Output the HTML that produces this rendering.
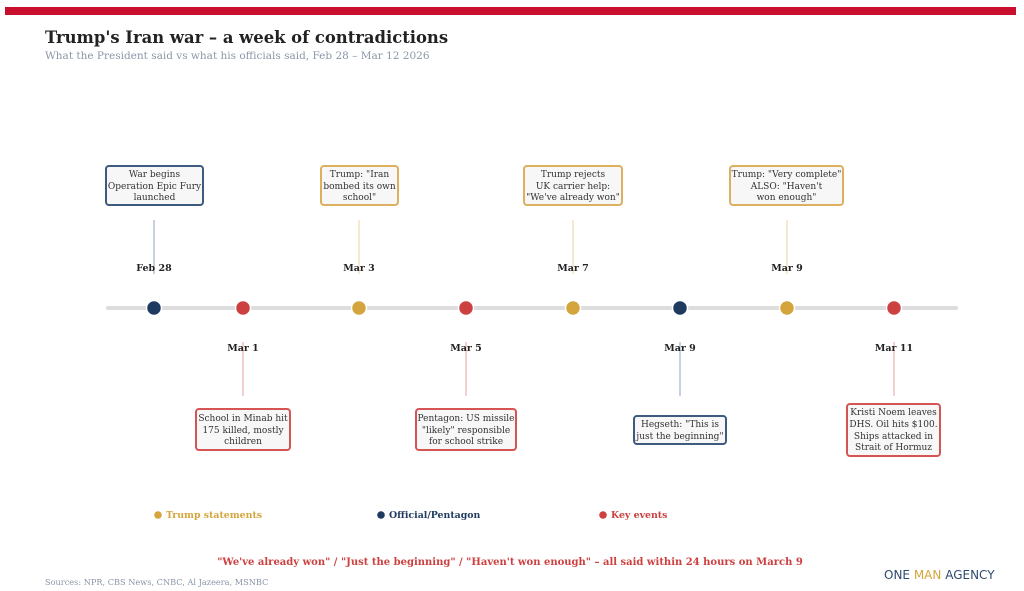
<!DOCTYPE html>
<html><head><meta charset="utf-8"><style>
html,body{margin:0;padding:0;background:#fff;}
svg{display:block;font-family:"DejaVu Serif","Liberation Serif",serif;}
</style></head><body>
<svg width="1024" height="591" viewBox="0 0 1024 591" xmlns="http://www.w3.org/2000/svg">
<rect x="5" y="7" width="1011" height="8" fill="#c8102e"/>
<text x="45" y="43" font-size="16.4" font-weight="bold" fill="#222">Trump's Iran war – a week of contradictions</text>
<text x="45" y="59" font-size="10.5" fill="#8a96a8">What the President said vs what his officials said, Feb 28 – Mar 12 2026</text>

<line x1="108" y1="308" x2="956" y2="308" stroke="#dddddd" stroke-width="4" stroke-linecap="round"/>

<g stroke-width="1">
<line x1="154" y1="220" x2="154" y2="274" stroke="#8fa3bf"/>
<line x1="359" y1="220" x2="359" y2="274" stroke="#ecd3a0"/>
<line x1="573" y1="220" x2="573" y2="274" stroke="#ecd3a0"/>
<line x1="787" y1="220" x2="787" y2="274" stroke="#ecd3a0"/>
<line x1="243" y1="342" x2="243" y2="396" stroke="#e6a0a0"/>
<line x1="466" y1="342" x2="466" y2="396" stroke="#e6a0a0"/>
<line x1="680" y1="342" x2="680" y2="396" stroke="#8fa3bf"/>
<line x1="894" y1="342" x2="894" y2="396" stroke="#e6a0a0"/>
</g>

<g font-size="9.5" font-weight="bold" fill="#222" text-anchor="middle">
<text x="154" y="271">Feb 28</text>
<text x="359" y="271">Mar 3</text>
<text x="573" y="271">Mar 7</text>
<text x="787" y="271">Mar 9</text>
<text x="243" y="351">Mar 1</text>
<text x="466" y="351">Mar 5</text>
<text x="680" y="351">Mar 9</text>
<text x="894" y="351">Mar 11</text>
</g>

<g stroke="#fff" stroke-width="1.5">
<circle cx="154" cy="308" r="7.5" fill="#1f3a5f"/>
<circle cx="243" cy="308" r="7.5" fill="#cc4040"/>
<circle cx="359" cy="308" r="7.5" fill="#d4a53c"/>
<circle cx="466" cy="308" r="7.5" fill="#cc4040"/>
<circle cx="573" cy="308" r="7.5" fill="#d4a53c"/>
<circle cx="680" cy="308" r="7.5" fill="#1f3a5f"/>
<circle cx="787" cy="308" r="7.5" fill="#d4a53c"/>
<circle cx="894" cy="308" r="7.5" fill="#cc4040"/>
</g>

<g fill="#f7f7f7" stroke-width="2">
<rect x="106" y="166" width="97" height="39" rx="3" stroke="#3d5a7f"/>
<rect x="321" y="166" width="77" height="39" rx="3" stroke="#dcb060"/>
<rect x="524" y="166" width="98" height="39" rx="3" stroke="#dcb060"/>
<rect x="730" y="166" width="113" height="39" rx="3" stroke="#dcb060"/>
<rect x="196" y="409" width="94" height="41" rx="3" stroke="#d65454"/>
<rect x="416" y="409" width="100" height="41" rx="3" stroke="#d65454"/>
<rect x="634" y="416" width="92" height="28" rx="3" stroke="#3d5a7f"/>
<rect x="847" y="404" width="93" height="52" rx="3" stroke="#d65454"/>
</g>

<g font-size="9" fill="#333" text-anchor="middle">
<text x="154.5" y="177">War begins</text>
<text x="154.5" y="189">Operation Epic Fury</text>
<text x="154.5" y="200">launched</text>
<text x="359.5" y="177">Trump: "Iran</text>
<text x="359.5" y="189">bombed its own</text>
<text x="359.5" y="200">school"</text>
<text x="573" y="177">Trump rejects</text>
<text x="573" y="189">UK carrier help:</text>
<text x="573" y="200">"We've already won"</text>
<text x="786.5" y="177">Trump: "Very complete"</text>
<text x="786.5" y="189">ALSO: "Haven't</text>
<text x="786.5" y="200">won enough"</text>
<text x="243" y="421">School in Minab hit</text>
<text x="243" y="433">175 killed, mostly</text>
<text x="243" y="444">children</text>
<text x="466" y="421">Pentagon: US missile</text>
<text x="466" y="433">"likely" responsible</text>
<text x="466" y="444">for school strike</text>
<text x="680" y="427">Hegseth: "This is</text>
<text x="680" y="439">just the beginning"</text>
<text x="893.5" y="415">Kristi Noem leaves</text>
<text x="893.5" y="427">DHS. Oil hits $100.</text>
<text x="893.5" y="439">Ships attacked in</text>
<text x="893.5" y="450">Strait of Hormuz</text>
</g>

<g font-size="9.4" font-weight="bold">
<circle cx="158" cy="515" r="3.8" fill="#d4a53c"/>
<text x="166" y="518" fill="#d4a53c">Trump statements</text>
<circle cx="381" cy="515" r="3.8" fill="#1f3a5f"/>
<text x="389" y="518" fill="#1f3a5f">Official/Pentagon</text>
<circle cx="603" cy="515" r="3.8" fill="#cc4040"/>
<text x="611" y="518" fill="#cc4040">Key events</text>
</g>

<text x="510" y="565" font-size="10" font-weight="bold" fill="#cc4040" text-anchor="middle">"We've already won" / "Just the beginning" / "Haven't won enough" – all said within 24 hours on March 9</text>
<text x="45" y="585" font-size="8.2" fill="#8a96a8">Sources: NPR, CBS News, CNBC, Al Jazeera, MSNBC</text>
<text x="884" y="579" font-size="12" font-family="'DejaVu Sans','Liberation Sans',sans-serif"><tspan fill="#2e4a6e">ONE </tspan><tspan fill="#d4a53c">MAN</tspan><tspan fill="#2e4a6e"> AGENCY</tspan></text>
</svg>
</body></html>
